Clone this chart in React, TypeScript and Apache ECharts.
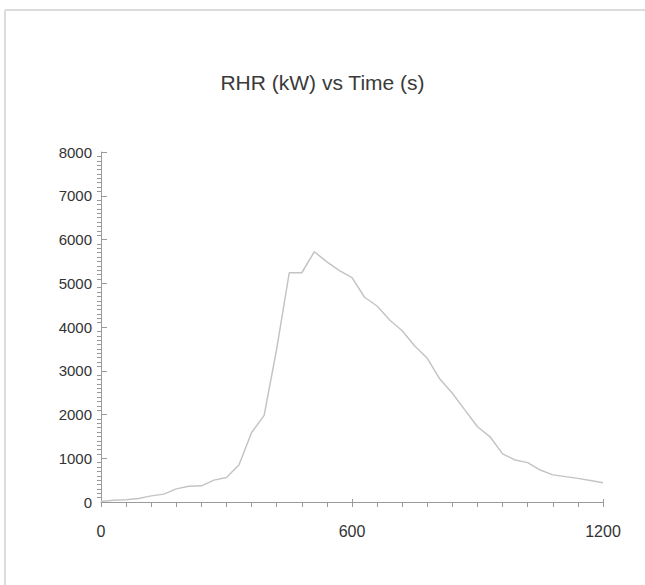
import React, { useEffect, useRef } from "react";
import * as echarts from "echarts";

const titleText = "RHR (kW) vs Time (s)";
const times = [0, 30, 60, 90, 120, 150, 180, 210, 240, 270, 300, 330, 360, 390, 420, 450, 480, 510, 540, 570, 600, 630, 660, 690, 720, 750, 780, 810, 840, 870, 900, 930, 960, 990, 1020, 1050, 1080, 1110, 1140, 1170, 1200];
const rhr = [10, 40, 50, 80, 140, 180, 300, 360, 370, 500, 560, 850, 1590, 1980, 3500, 5240, 5240, 5720, 5490, 5290, 5130, 4680, 4480, 4160, 3915, 3565, 3285, 2810, 2485, 2100, 1720, 1490, 1100, 960, 900, 730, 620, 580, 540, 490, 440];

export default function App() {
  const ref = useRef<HTMLDivElement>(null);
  useEffect(() => {
    if (!ref.current) return;
    const chart = echarts.init(ref.current, undefined, { renderer: "svg" });
    const font = "Liberation Sans, Arial, sans-serif";
    const axisColor = "#9a9a9a";
    const plain = (v: number) => String(v);
    chart.setOption({
      animation: false,
      backgroundColor: "#ffffff",
      title: {
        text: titleText,
        left: "center",
        top: 67,
        textStyle: { fontFamily: font, fontSize: 21, fontWeight: "normal", color: "#3a3a3a" },
      },
      graphic: [
        { type: "line", shape: { x1: 5, y1: 10, x2: 645, y2: 10 }, style: { stroke: "#dcdcdc", lineWidth: 2 } },
        { type: "line", shape: { x1: 5, y1: 10, x2: 5, y2: 585 }, style: { stroke: "#dcdcdc", lineWidth: 2 } },
      ],
      grid: { left: 101, right: 42, top: 152, bottom: 83 },
      xAxis: [
        {
          type: "value",
          min: 0,
          max: 1200,
          interval: 600,
          axisLine: { show: true, lineStyle: { color: axisColor } },
          axisTick: { show: true, length: 5, lineStyle: { color: axisColor } },
          minorTick: { show: true, splitNumber: 10, length: 5, lineStyle: { color: axisColor } },
          splitLine: { show: false },
          axisLabel: { fontFamily: font, fontSize: 16, color: "#333", margin: 21, formatter: plain },
        },
        {
          type: "value",
          min: 0,
          max: 1200,
          interval: 600,
          position: "bottom",
          axisLine: { show: false },
          axisTick: { show: true, inside: true, length: 3, lineStyle: { color: axisColor } },
          axisLabel: { show: false },
          splitLine: { show: false },
        },
      ],
      yAxis: [
        {
          type: "value",
          min: 0,
          max: 8000,
          interval: 1000,
          axisLine: { show: true, lineStyle: { color: axisColor } },
          axisTick: { show: true, inside: true, length: 6, lineStyle: { color: axisColor } },
          splitLine: { show: false },
          axisLabel: { fontFamily: font, fontSize: 15, color: "#333", margin: 9, formatter: plain },
        },
        {
          type: "value",
          min: 0,
          max: 8000,
          interval: 1000,
          position: "left",
          axisLine: { show: false },
          axisTick: { show: false },
          minorTick: { show: true, splitNumber: 10, length: 4, lineStyle: { color: axisColor } },
          axisLabel: { show: false },
          splitLine: { show: false },
        },
      ],
      series: [
        {
          type: "line",
          xAxisIndex: 0,
          yAxisIndex: 0,
          data: times.map((t, i) => [t, rhr[i]]),
          showSymbol: false,
          lineStyle: { color: "#c4c4c4", width: 1.5 },
        },
      ],
    });
    return () => chart.dispose();
  }, []);
  return <div ref={ref} style={{ width: 645, height: 585, position: "absolute", left: 0, top: 0 }} />;
}
